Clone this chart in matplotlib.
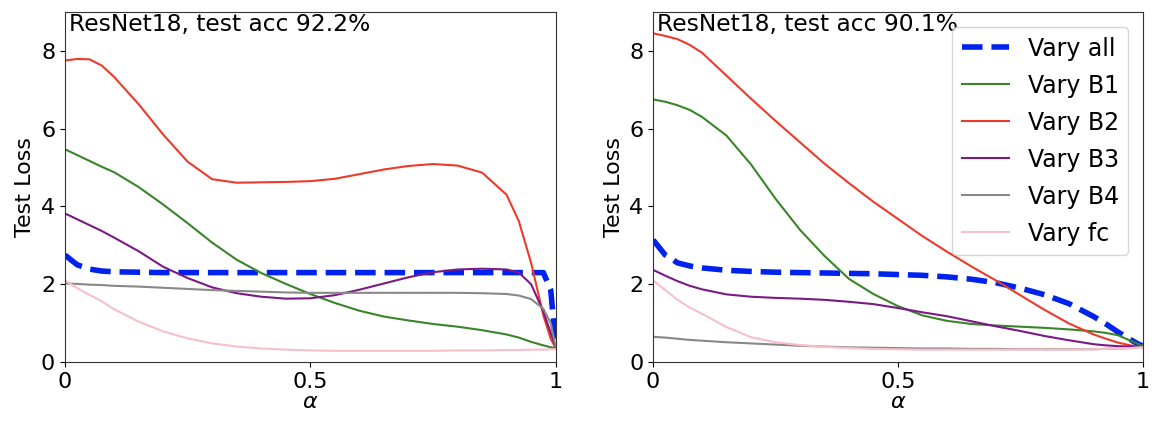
import matplotlib
matplotlib.use("Agg")
import matplotlib.pyplot as plt

alpha = [0, 0.025, 0.05, 0.075, 0.1, 0.15, 0.2, 0.25, 0.3, 0.35, 0.4, 0.45, 0.5,
         0.55, 0.6, 0.65, 0.7, 0.75, 0.8, 0.85, 0.9, 0.925, 0.95, 0.975, 0.99, 1.0]

series_names = ["Vary all", "Vary B1", "Vary B2", "Vary B3", "Vary B4", "Vary fc"]
titles = ["ResNet18, test acc 92.2%", "ResNet18, test acc 90.1%"]

# Left panel
left_all = [2.75, 2.50, 2.39, 2.34, 2.32, 2.31, 2.30, 2.30, 2.30, 2.30, 2.30, 2.30, 2.30,
            2.30, 2.30, 2.30, 2.30, 2.30, 2.30, 2.30, 2.30, 2.30, 2.30, 2.30, 1.85, 0.45]
left_b1 = [5.47, 5.32, 5.17, 5.02, 4.88, 4.50, 4.05, 3.57, 3.07, 2.63, 2.29, 2.01, 1.75,
           1.52, 1.32, 1.17, 1.07, 0.98, 0.91, 0.82, 0.71, 0.63, 0.52, 0.43, 0.38, 0.36]
left_b2 = [7.75, 7.79, 7.78, 7.62, 7.33, 6.63, 5.85, 5.15, 4.70, 4.61, 4.62, 4.63, 4.65,
           4.71, 4.83, 4.95, 5.04, 5.09, 5.05, 4.87, 4.30, 3.62, 2.55, 1.20, 0.60, 0.36]
left_b3 = [3.82, 3.67, 3.52, 3.37, 3.20, 2.85, 2.45, 2.16, 1.92, 1.77, 1.68, 1.63, 1.64,
           1.72, 1.86, 2.02, 2.18, 2.31, 2.38, 2.40, 2.38, 2.30, 2.00, 1.30, 0.75, 0.38]
left_b4 = [2.02, 2.01, 1.99, 1.98, 1.96, 1.94, 1.91, 1.88, 1.85, 1.83, 1.81, 1.79, 1.78,
           1.78, 1.78, 1.78, 1.78, 1.78, 1.78, 1.77, 1.75, 1.71, 1.62, 1.37, 1.00, 0.40]
left_fc = [2.10, 1.90, 1.73, 1.56, 1.36, 1.04, 0.79, 0.61, 0.48, 0.40, 0.35, 0.32, 0.30,
           0.29, 0.29, 0.29, 0.29, 0.29, 0.30, 0.30, 0.31, 0.31, 0.32, 0.32, 0.33, 0.33]

# Right panel
right_all = [3.14, 2.75, 2.55, 2.47, 2.42, 2.36, 2.33, 2.31, 2.30, 2.29, 2.28, 2.27, 2.25,
             2.23, 2.19, 2.13, 2.04, 1.90, 1.73, 1.50, 1.17, 0.98, 0.77, 0.58, 0.47, 0.42]
right_b1 = [6.75, 6.69, 6.60, 6.48, 6.30, 5.82, 5.08, 4.20, 3.40, 2.73, 2.14, 1.75, 1.44,
            1.20, 1.06, 0.98, 0.94, 0.91, 0.88, 0.84, 0.79, 0.75, 0.69, 0.55, 0.47, 0.42]
right_b2 = [8.45, 8.38, 8.30, 8.15, 7.95, 7.36, 6.77, 6.20, 5.65, 5.10, 4.60, 4.12, 3.68,
            3.24, 2.84, 2.46, 2.10, 1.72, 1.34, 0.99, 0.71, 0.60, 0.50, 0.43, 0.40, 0.38]
right_b3 = [2.37, 2.22, 2.08, 1.96, 1.87, 1.74, 1.68, 1.65, 1.63, 1.60, 1.55, 1.49, 1.39,
            1.28, 1.18, 1.05, 0.92, 0.80, 0.67, 0.56, 0.46, 0.43, 0.41, 0.40, 0.40, 0.40]
right_b4 = [0.65, 0.63, 0.60, 0.57, 0.55, 0.51, 0.48, 0.45, 0.42, 0.40, 0.38, 0.37, 0.36,
            0.35, 0.35, 0.34, 0.34, 0.33, 0.33, 0.33, 0.33, 0.34, 0.35, 0.36, 0.38, 0.40]
right_fc = [2.10, 1.85, 1.60, 1.40, 1.24, 0.90, 0.64, 0.51, 0.44, 0.39, 0.36, 0.34, 0.33,
            0.32, 0.32, 0.32, 0.32, 0.32, 0.32, 0.32, 0.33, 0.34, 0.35, 0.36, 0.37, 0.38]

panels = [
    [left_all, left_b1, left_b2, left_b3, left_b4, left_fc],
    [right_all, right_b1, right_b2, right_b3, right_b4, right_fc],
]

colors = ["#0022ee", "#3a852a", "#ee3a2a", "#7a1a85", "#888888", "#f7c0c8"]
styles = [dict(ls="--", lw=4.0), dict(lw=1.5), dict(lw=1.5), dict(lw=1.5),
          dict(lw=1.5), dict(lw=1.5)]

plt.rcParams['font.family'] = ['DejaVu Sans']

fig = plt.figure(figsize=(11.6, 4.24), dpi=100)
axes = [fig.add_axes([0.056, 0.146, 0.423, 0.826]),
        fig.add_axes([0.563, 0.146, 0.422, 0.826])]

for i, ax in enumerate(axes):
    for name, vals, c, st in zip(series_names, panels[i], colors, styles):
        ax.plot(alpha, vals, color=c, label=name, **st)
    ax.set_xlim(0, 1)
    ax.set_ylim(0, 9)
    ax.set_xticks([0, 0.5, 1])
    ax.set_xticklabels(["0", "0.5", "1"])
    ax.set_yticks([0, 2, 4, 6, 8])
    ax.tick_params(labelsize=16)
    ax.set_xlabel(r"$\alpha$", fontsize=16, labelpad=0)
    ax.set_ylabel("Test Loss", fontsize=16)
    ax.text(0.008, 0.998, titles[i], transform=ax.transAxes, ha="left", va="top",
            fontsize=16.8)
    for sp in ax.spines.values():
        sp.set_color("#333333")

axes[1].legend(loc="upper right", fontsize=17, labelspacing=0.55,
               bbox_to_anchor=(0.995, 0.99))

fig.savefig("out.png", dpi=100)
